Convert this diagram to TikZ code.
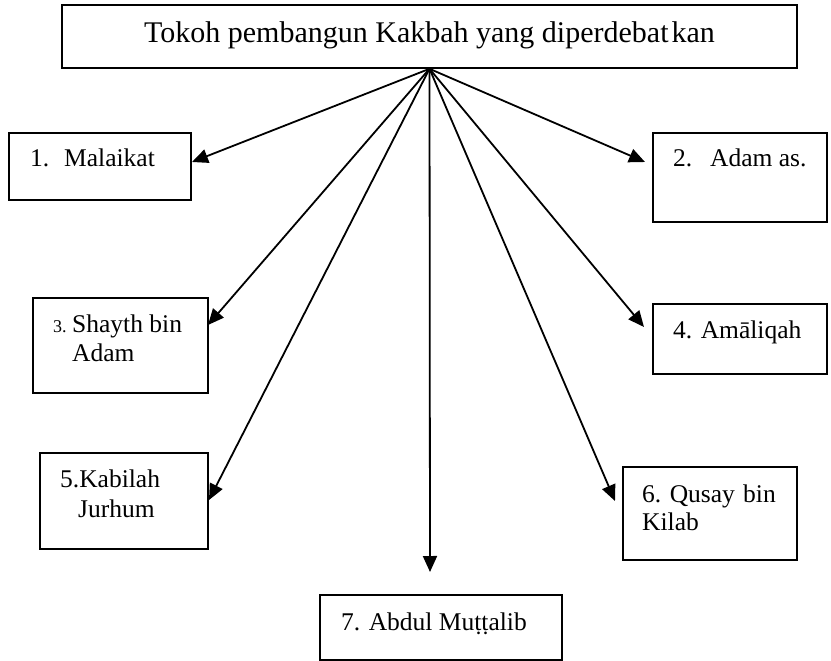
\documentclass[tikz,border=0pt]{standalone}
\usepackage{fontspec}
\setmainfont{Liberation Serif}
\usetikzlibrary{arrows.meta}
\begin{document}
\begin{tikzpicture}[x=1pt,y=-1pt,
  box/.style={draw, line width=1.6pt, inner sep=0pt},
  lbl/.style={anchor=base west, inner sep=0pt, font=\fontsize{25.5}{29}\selectfont},
  ttl/.style={anchor=base, inner sep=0pt, font=\fontsize{30}{34}\selectfont},
  arr/.style={line width=1.8pt, -{Triangle[length=16pt,width=14pt]}}
]
\useasboundingbox (0,0) rectangle (831,661);

% boxes
\node[box, minimum width=735pt, minimum height=63pt] (top) at (429.5,36.5) {};
\node[box, minimum width=182pt, minimum height=67pt] (b1) at (100,166.5) {};
\node[box, minimum width=174pt, minimum height=89pt] (b2) at (740,177.5) {};
\node[box, minimum width=175pt, minimum height=95pt] (b3) at (120.5,345.5) {};
\node[box, minimum width=174pt, minimum height=70pt] (b4) at (740,339) {};
\node[box, minimum width=168pt, minimum height=96pt] (b5) at (124,501) {};
\node[box, minimum width=174pt, minimum height=93pt] (b6) at (710,513.5) {};
\node[box, minimum width=242pt, minimum height=65pt] (b7) at (441,627.5) {};

% texts
\node[ttl] (ttitle) at (429.5,43) {Tokoh pembangun Kakbah yang diperdebat\hspace{3pt}kan};
\node[lbl] (n1) at (30,167) {1.};
\node[lbl] (m1) at (64,167) {Malaikat};
\node[lbl] (n2) at (673,166) {2.};
\node[lbl] (m2) at (710,166) {Adam as.};
\node[lbl, font=\fontsize{18}{20}\selectfont] (n3) at (53,332) {3.};
\node[lbl] (m3a) at (72,332) {Shayth bin};
\node[lbl] (m3b) at (72,361) {Adam};
\node[lbl] (m4) at (673,338) {4. Amāliqah};
\node[lbl] (m5a) at (60,487) {5.Kabilah};
\node[lbl] (m5b) at (78,517) {Jurhum};
\node[lbl] (m6a) at (642,502) {6. Qusay};
\node[lbl, anchor=base east] (m6b) at (776,502) {bin};
\node[lbl] (m6c) at (642,530) {Kilab};
\node[lbl] (m7) at (341,630) {7. Abdul Muṭṭalib};

% arrow ends
\coordinate (t1) at (192,162);
\coordinate (t2) at (645,162);
\coordinate (t3) at (208,325);
\coordinate (t4) at (644,327);
\coordinate (t5) at (209,500);
\coordinate (t6) at (615,501);
\coordinate (t7) at (430,572);

\foreach \t in {t1,t2,t3,t4,t5,t6,t7}
  \draw[arr] (top.south) -- (\t);
\end{tikzpicture}
\end{document}
